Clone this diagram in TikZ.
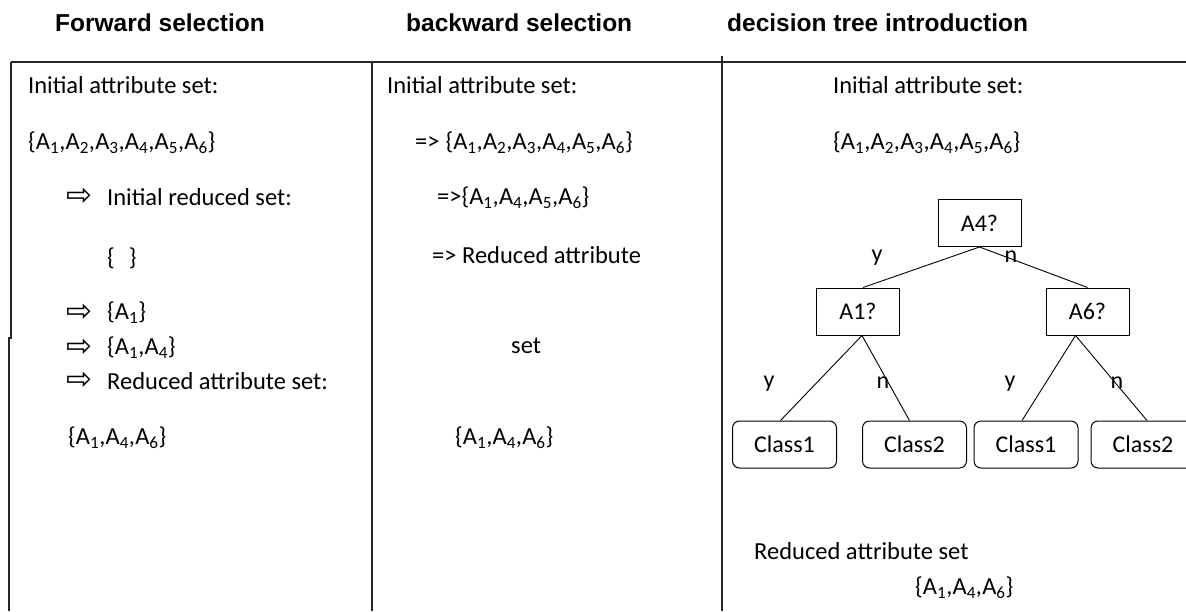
\documentclass[tikz,border=0pt]{standalone}
\usepackage{fontspec}
\setmainfont{Carlito}
\newfontfamily\headfont{Liberation Sans}
\newfontfamily\symfont{DejaVu Sans}
% attribute with subscript index
\newcommand\At[1]{A\textsubscript{#1}}

\begin{document}
\begin{tikzpicture}[x=1pt,y=-1pt,
  txt/.style={anchor=west, inner sep=0pt, font=\fontsize{24.5}{28}\selectfont},
  bullet/.style={anchor=west, inner sep=0pt, font=\symfont\fontsize{31}{34}\selectfont},
  head/.style={anchor=west, inner sep=0pt, font=\headfont\bfseries\fontsize{24.5}{28}\selectfont},
  rule/.style={line width=1.4pt, draw=black!85},
  qbox/.style={draw, line width=1pt, minimum width=83pt, minimum height=47pt,
    inner sep=0pt, font=\fontsize{24}{28}\selectfont},
  leaf/.style={draw, line width=1pt, rounded corners=7pt, minimum width=104pt,
    minimum height=47pt, inner sep=0pt, font=\fontsize{24}{28}\selectfont},
  branch/.style={line width=0.9pt},
  lab/.style={inner sep=0pt, font=\fontsize{24}{28}\selectfont}]
\useasboundingbox (0,0) rectangle (1186,611);

% column headings
\node[head] (h1) at (55,23) {Forward selection};
\node[head] (h2) at (406,23) {backward selection};
\node[head] (h3) at (727,23) {decision tree introduction};

% table frame
\coordinate (tl) at (11,62);
\coordinate (tr) at (1186,62);
\coordinate (lj1) at (11,338);
\coordinate (lj2) at (9,338);
\coordinate (lb) at (9,611);
\coordinate (m1t) at (372,62);
\coordinate (m1b) at (372,611);
\coordinate (m2t) at (722,56);
\coordinate (m2b) at (722,611);
\draw[rule] (tl) -- (tr);
\draw[rule] (tl) -- (lj1) -- (lj2) -- (lb);
\draw[rule] (m1t) -- (m1b);
\draw[rule] (m2t) -- (m2b);

% forward selection
\node[txt] (f1) at (28,85) {Initial attribute set:};
\node[txt] (f2) at (28,143) {\{\At1,\At2,\At3,\At4,\At5,\At6\}};
\node[bullet] (fa3) at (66,197) {⇨};
\node[txt] (f3) at (107,197) {Initial reduced set:};
\node[txt] (f4) at (107,258) {\{\hspace{14pt}\}};
\node[bullet] (fa5) at (66,313) {⇨};
\node[txt] (f5) at (107,313) {\{\At1\}};
\node[bullet] (fa6) at (66,348) {⇨};
\node[txt] (f6) at (107,348) {\{\At1,\At4\}};
\node[bullet] (fa7) at (66,381) {⇨};
\node[txt] (f7) at (107,381) {Reduced attribute set:};
\node[txt] (f8) at (68,438) {\{\At1,\At4,\At6\}};

% backward selection
\node[txt] (b1) at (387,85) {Initial attribute set:};
\node[txt] (b2) at (415,143) {=>\hspace{6pt}\{\At1,\At2,\At3,\At4,\At5,\At6\}};
\node[txt] (b3) at (437,198) {=>\{\At1,\At4,\At5,\At6\}};
\node[txt] (b4) at (432,255) {=> Reduced attribute};
\node[txt] (b5) at (511,346) {set};
\node[txt] (b6) at (455,438) {\{\At1,\At4,\At6\}};

% decision tree introduction
\node[txt] (d1) at (833,85) {Initial attribute set:};
\node[txt] (d2) at (833,143) {\{\At1,\At2,\At3,\At4,\At5,\At6\}};

\node[qbox] (q4) at (979.5,223) {A4?};
\node[qbox] (q1) at (858,311.5) {A1?};
\node[qbox] (q6) at (1087.5,311.5) {A6?};
\node[leaf] (c1) at (784.5,444.5) {Class1};
\node[leaf] (c2) at (914.5,444.5) {Class2};
\node[leaf] (c3) at (1026,444.5) {Class1};
\node[leaf] (c4) at (1143,444.5) {Class2};

\draw[branch] (q4.south) -- ([xshift=5pt]q1.north);
\draw[branch] (q4.south) -- (q6.north);
\draw[branch] ([xshift=4pt]q1.south) -- ([xshift=-4pt]c1.north);
\draw[branch] ([xshift=4pt]q1.south) -- ([xshift=-5pt]c2.north);
\draw[branch] ([xshift=-12pt]q6.south) -- ([xshift=-4pt]c3.north);
\draw[branch] ([xshift=-12pt]q6.south) -- ([xshift=4pt]c4.north);

\node[lab] (y1) at (877,258) {y};
\node[lab] (n1) at (1011,257) {n};
\node[lab] (y2) at (769,384) {y};
\node[lab] (n2) at (883,383) {n};
\node[lab] (y3) at (1010,384) {y};
\node[lab] (n3) at (1117,383) {n};

\node[txt] (d3) at (754,551) {Reduced attribute set};
\node[txt] (d4) at (915,588) {\{\At1,\At4,\At6\}};
\end{tikzpicture}
\end{document}
